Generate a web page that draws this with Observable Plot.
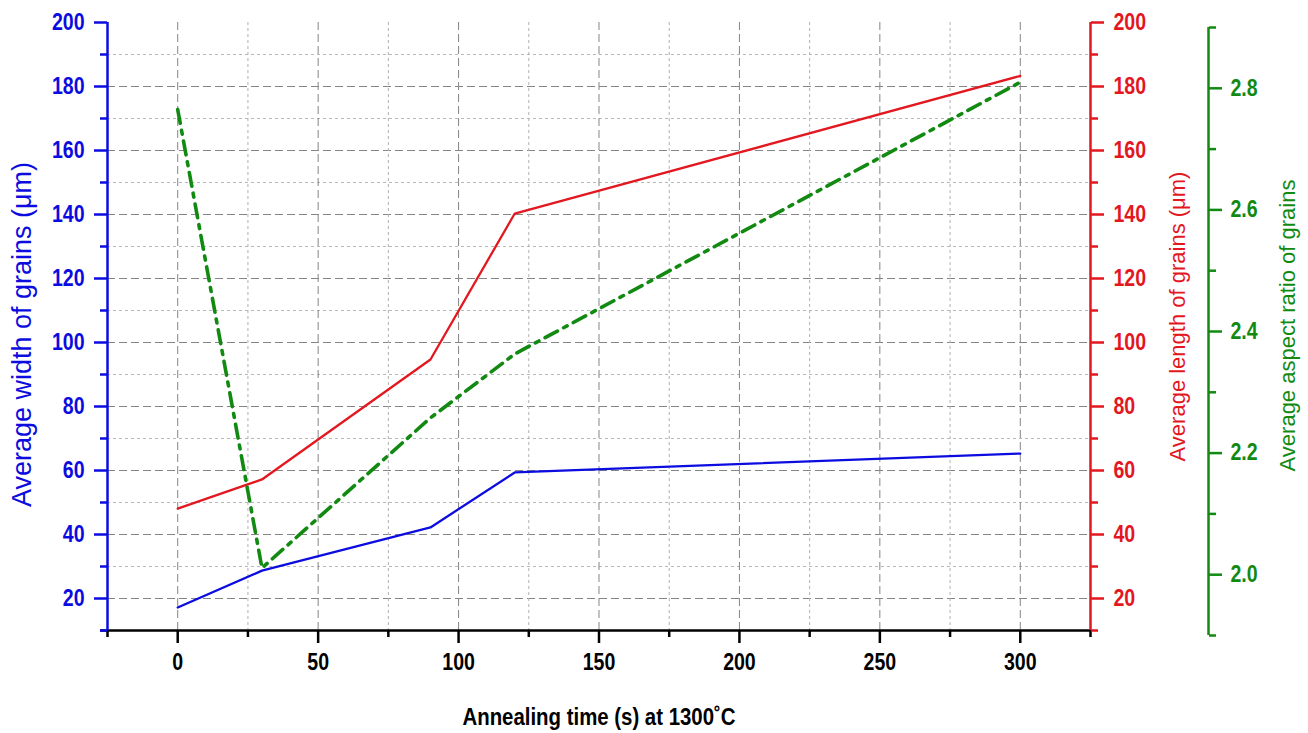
<!DOCTYPE html>
<html><head><meta charset="utf-8">
<script src="https://cdn.jsdelivr.net/npm/d3@7"></script>
<script src="https://cdn.jsdelivr.net/npm/@observablehq/plot@0.6"></script>
<style>html,body{margin:0;padding:0;background:#fff;overflow:hidden}</style>
</head><body><div id="chart"></div>
<script>
const times = [0, 30, 90, 120, 300];
const grainWidth = [17.2, 28.7, 42.2, 59.4, 65.3];
const grainLength = [48.1, 57.2, 94.7, 140.3, 183.3];
const aspectRatio = [2.765, 2.011, 2.258, 2.363, 2.81];

const xTicks = [0, 50, 100, 150, 200, 250, 300];
const xMinorTicks = [-25, 25, 75, 125, 175, 225, 275, 325];
const xGridMinor = [25, 75, 125, 175, 225, 275];
const yTicks = [20, 40, 60, 80, 100, 120, 140, 160, 180, 200];
const yMinorTicks = [10, 30, 50, 70, 90, 110, 130, 150, 170, 190];
const yGridMajor = [20, 40, 60, 80, 100, 120, 140, 160, 180];
const yGridMinor = [30, 50, 70, 90, 110, 130, 150, 170, 190];
const ratioTicks = [2.0, 2.2, 2.4, 2.6, 2.8];
const ratioMinorTicks = [1.9, 2.1, 2.3, 2.5, 2.7, 2.9];

const xLabel = "Annealing time (s) at 1300˚C";
const yLabel = "Average width of grains (μm)";
const y2Label = "Average length of grains (μm)";
const y3Label = "Average aspect ratio of grains";

const BLUE = "#0c0ce0", RED = "#e3171f", GREEN = "#128a12", BLACK = "#000";
const NARROW = "'Liberation Sans Narrow','Arial Narrow','Liberation Sans',Arial,sans-serif";
const SANS = "'Liberation Sans',Arial,sans-serif";

// green axis scale mapped into the primary y units
const gy = d3.scaleLinear().domain([1.9, 2.9]).range([10, 200]);
const fmt1 = d3.format(".1f");
const blank = () => "";

const tickText = {fontSize: 23, fontWeight: "bold", fontFamily: NARROW, label: null};

const chart = Plot.plot({
  width: 1308, height: 733,
  marginTop: 22, marginBottom: 103, marginLeft: 107, marginRight: 218,
  x: {domain: [-25, 325]},
  y: {domain: [10, 200]},
  style: {fontFamily: NARROW, background: "#fff", overflow: "visible"},
  marks: [
    // grid
    Plot.ruleY(yGridMinor, {stroke: "#b8b8b8", strokeWidth: 1, strokeDasharray: "3,3"}),
    Plot.ruleY(yGridMajor, {stroke: "#858585", strokeWidth: 1, strokeDasharray: "8,4"}),
    Plot.ruleX(xGridMinor, {stroke: "#b0b0b0", strokeWidth: 1, strokeDasharray: "3,3"}),
    Plot.ruleX(xTicks, {stroke: "#858585", strokeWidth: 1, strokeDasharray: "8,4"}),

    // x axis
    Plot.ruleY([10], {stroke: BLACK, strokeWidth: 2.5, insetLeft: -7}),
    Plot.axisX(xTicks, {...tickText, tickSize: 13, tickPadding: 10, stroke: BLACK, fill: BLACK, strokeWidth: 2.5}),
    Plot.axisX(xMinorTicks, {label: null, tickSize: 7, tickFormat: blank, stroke: BLACK, strokeWidth: 2.5}),
    Plot.text([xLabel], {frameAnchor: "bottom", lineAnchor: "middle", textAnchor: "middle", dy: 87, fontSize: 24, fontWeight: "bold", fontFamily: NARROW, fill: BLACK}),

    // left (blue) axis
    Plot.ruleX([-25], {stroke: BLUE, strokeWidth: 2.5}),
    Plot.axisY(yTicks, {...tickText, anchor: "left", tickSize: 13, tickPadding: 10, stroke: BLUE, fill: BLUE, strokeWidth: 2.5}),
    Plot.axisY(yMinorTicks, {label: null, anchor: "left", tickSize: 7, tickFormat: blank, stroke: BLUE, strokeWidth: 2.5}),
    Plot.text([yLabel], {frameAnchor: "left", textAnchor: "middle", lineAnchor: "middle", dx: -85, dy: 8, rotate: -90, fontSize: 27, fontFamily: SANS, fill: BLUE}),

    // right (red) axis
    Plot.ruleX([325], {stroke: RED, strokeWidth: 2.5}),
    Plot.axisY(yTicks, {...tickText, anchor: "right", tickSize: 13, tickPadding: 10, stroke: RED, fill: RED, strokeWidth: 2.5}),
    Plot.axisY(yMinorTicks, {label: null, anchor: "right", tickSize: 7, tickFormat: blank, stroke: RED, strokeWidth: 2.5}),
    Plot.text([y2Label], {frameAnchor: "right", textAnchor: "middle", lineAnchor: "middle", dx: 87, dy: -10, rotate: -90, fontSize: 22, fontFamily: SANS, fill: RED}),

    // far right (green) axis
    Plot.ruleX([325], {dx: 118, dy: 5, stroke: GREEN, strokeWidth: 2.5}),
    Plot.axisY(ratioTicks, {...tickText, y: gy, anchor: "right", dx: 118, dy: 5, tickSize: 13, tickPadding: 9, tickFormat: fmt1, stroke: GREEN, fill: GREEN, strokeWidth: 2.5}),
    Plot.axisY(ratioMinorTicks, {label: null, y: gy, anchor: "right", dx: 118, dy: 5, tickSize: 7, tickFormat: blank, stroke: GREEN, strokeWidth: 2.5}),
    Plot.text([y3Label], {frameAnchor: "right", textAnchor: "middle", lineAnchor: "middle", dx: 197, dy: -1, rotate: -90, fontSize: 22, fontFamily: SANS, fill: GREEN}),

    // data
    Plot.line(times, {x: times, y: grainWidth, stroke: BLUE, strokeWidth: 2.3}),
    Plot.line(times, {x: times, y: grainLength, stroke: RED, strokeWidth: 2.3}),
    Plot.line(times, {x: times, y: aspectRatio.map(gy), dy: 5, stroke: GREEN, strokeWidth: 3.6, strokeDasharray: "14,7,4,7"})
  ]
});
document.getElementById("chart").appendChild(chart);

// emulate the condensed (narrow) face of the tick labels and x title
d3.select(chart).selectAll("text").filter(function() {
  const g = this.parentNode && this.parentNode.getAttribute("aria-label") || "";
  return /tick label|tick-label/.test(g) || this.textContent === xLabel;
}).each(function() {
  const t = d3.select(this);
  const tr = t.attr("transform");
  if (tr) {
    t.attr("transform", tr + " scale(0.85,1)");
  } else {
    const num = v => v != null && /^-?[\d.]+$/.test(v);
    const x = t.attr("x"), y = t.attr("y");
    const tx = num(x) ? +x : 0, ty = num(y) ? +y : 0;
    if (num(x)) t.attr("x", null);
    if (num(y)) t.attr("y", null);
    t.attr("transform", `translate(${tx},${ty}) scale(0.85,1)`);
  }
});
</script>
</body></html>
